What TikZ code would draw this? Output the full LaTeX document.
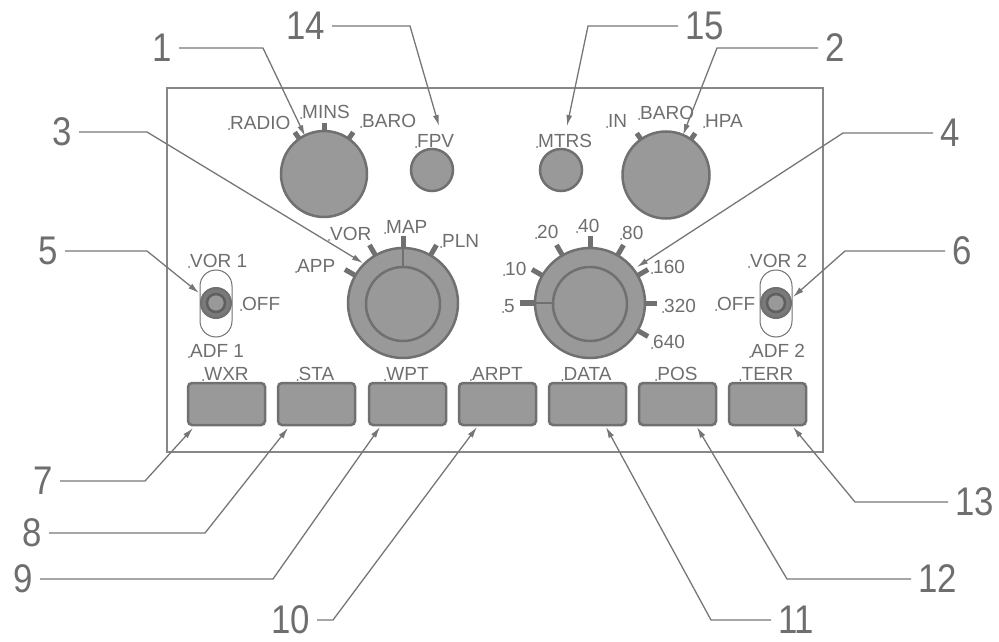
\documentclass[tikz,border=0pt]{standalone}
\usepackage{fontspec}
\setmainfont{Liberation Sans}
\newfontfamily\calloutfont[FakeStretch=0.87]{Liberation Sans}
\usetikzlibrary{arrows.meta}
\definecolor{knobfill}{RGB}{153,153,153}
\definecolor{knobline}{RGB}{112,112,112}
\definecolor{inkgray}{RGB}{110,110,110}
\definecolor{leadgray}{RGB}{118,118,118}
\definecolor{panelgray}{RGB}{135,135,135}
\begin{document}
\begin{tikzpicture}[x=1pt, y=-1pt,
    knob/.style={fill=knobfill, draw=knobline, line width=2.5pt},
    tick/.style={draw=knobline, line width=5pt},
    lbl/.style={anchor=base west, inner sep=0pt, text=inkgray, font=\fontsize{19}{19}\selectfont},
    num/.style={inner sep=0pt, text=inkgray, font=\calloutfont\fontsize{40}{40}\selectfont},
    callout/.style={draw=leadgray, line width=1.3pt, -{Latex[length=11pt,width=6pt]}},
    slot/.style={draw=knobline, line width=1pt, fill=white, rounded corners=16pt}]

\useasboundingbox (0,0) rectangle (999,642);

% panel outline
\draw[panelgray, line width=1.5pt] (167,88) rectangle (823,452);

% minimums knob and small push knobs
\foreach \a in {55,90,125} \draw[tick] (324,174) ++({-\a}:38) -- ++({-\a}:13);
\draw[knob] (324,174) circle [radius=43];
\draw[knob] (432,170) circle [radius=21];
\draw[knob] (561,170) circle [radius=21];

% baro knob
\foreach \a in {55,125} \draw[tick] (666,175) ++({-\a}:38) -- ++({-\a}:13);
\draw[knob] (666,175) circle [radius=43.5];

% mode knob
\foreach \a in {60,90,120,150} \draw[tick] (403,303) ++({-\a}:50) -- ++({-\a}:17);
\draw[knob] (403,303) circle [radius=55];
\draw[knob] (403,304) circle [radius=37];
\draw[knobline, line width=1.2pt] (403,248) -- (403,267);

% range knob
\foreach \a in {-30,0,30,60,90,120,150} \draw[tick] (590,303) ++({-\a}:50) -- ++({-\a}:17);
\draw[tick, line width=6pt] (590,303) ++(180:50) -- ++(180:20);
\draw[knob] (590,303) circle [radius=55];
\draw[knob] (590,304) circle [radius=37];
\draw[knobline, line width=2.5pt] (535,303) -- (553,303);

% nav source switches
\foreach \x in {216,776} {
  \draw[slot] (\x-16,270) rectangle (\x+16,337);
  \draw[fill=knobfill!80!black, draw=knobline, line width=2pt] (\x,303) circle [radius=15];
  \draw[fill=knobfill, draw=knobline!85!black, line width=2.5pt] (\x,303) circle [radius=9];
}

% push buttons
\foreach \x/\t [count=\k] in {188/WXR, 278/STA, 369/WPT, 459/ARPT, 549/DATA, 639/POS, 729/TERR} {
  \draw[knob, rounded corners=4pt] (\x,383) rectangle ++(77,42);
  \node[lbl, anchor=base] (btn\k) at (\x+38.5,380) {\t};
  \fill[inkgray] (btn\k.base west) ++(-1,0) circle [radius=1];
}

% panel legends
\foreach \t/\x/\y [count=\k] in {RADIO/230/129, MINS/302/118, BARO/362/127, FPV/417/147,
    MTRS/538/147, IN/608/127, BARO/640/119, HPA/705/127,
    VOR/330/240, MAP/386/233, PLN/442/247, APP/297/272,
    10/505/275, 20/537/238, 40/578/232, 80/622/239, 160/653/273, 320/664/312, 640/653/348, 5/504/312,
    VOR 1/190/267, OFF/242/310, ADF 1/190/357, VOR 2/750/267, OFF/717/310, ADF 2/751/357} {
  \node[lbl] (lab\k) at (\x,\y) {\t};
  \fill[inkgray] (lab\k.base west) ++(-1,0) circle [radius=1];
}

% callouts
\foreach \i/\nx/\ny/\side/\kx/\tx/\ty in {
    1/172/48/east/263/305/136, 14/325/26/east/410/439/126,
    15/685/26/west/588/567/126, 2/825/48/west/717/683/135,
    3/72/132/east/147/363/263, 4/940/133/west/843/637/267,
    5/58/251/east/147/199/293, 6/952/251/west/845/793/297,
    7/53/481/east/145/193/428, 8/42/533/east/205/288/428,
    9/33/579/east/273/380/427, 10/310/620/east/333/477/427,
    11/778/620/west/711/606/427, 12/918/579/west/787/697/427,
    13/955/502/west/855/793/427} {
  \node[num, anchor=\side] (n\i) at (\nx,\ny) {\i};
  \coordinate (k\i) at (\kx,\ny);
  \coordinate (t\i) at (\tx,\ty);
  \draw[callout, shorten <=7pt] (n\i.\side) -- (k\i) -- (t\i);
}
\end{tikzpicture}
\end{document}
